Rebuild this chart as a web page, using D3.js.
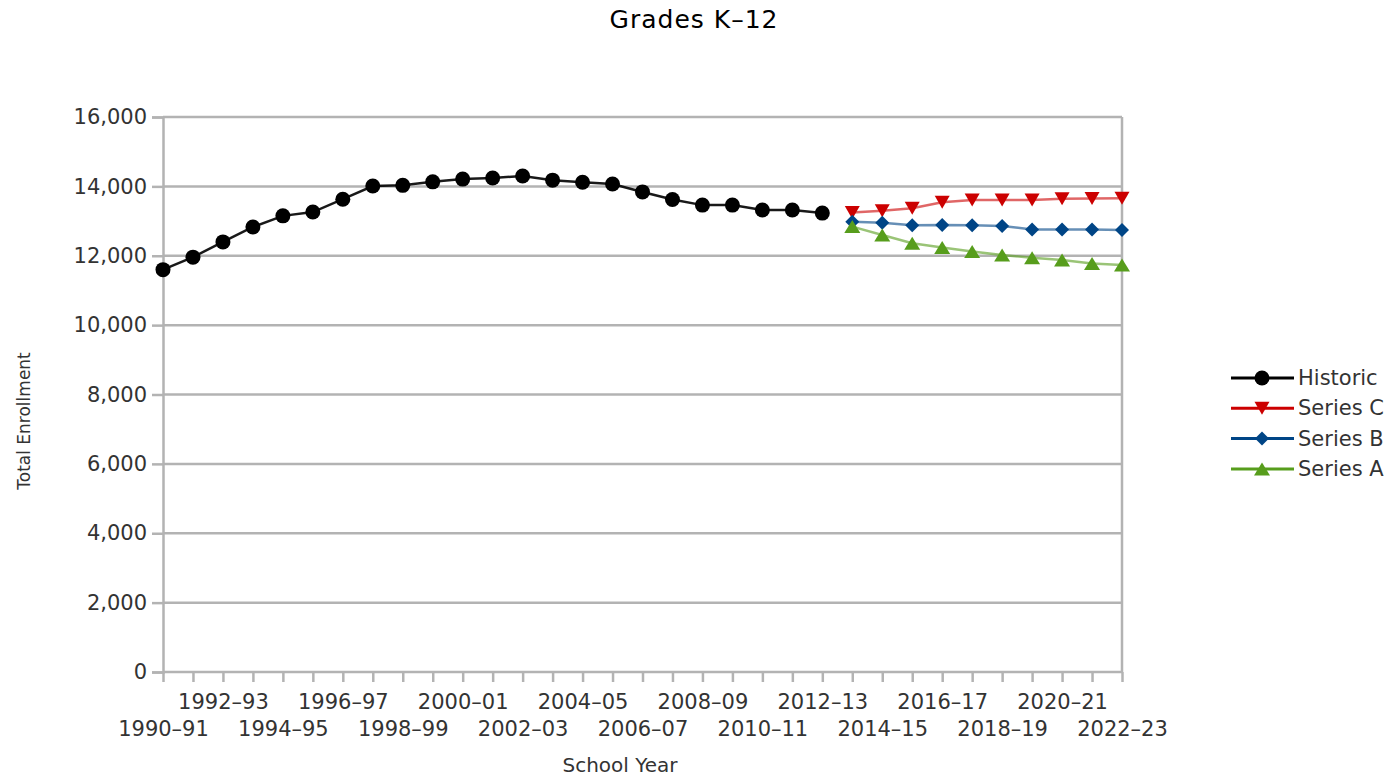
<!DOCTYPE html>
<html>
<head>
<meta charset="utf-8">
<script src="https://cdn.jsdelivr.net/npm/d3@7"></script>
<style>
  html, body { margin: 0; padding: 0; background: #fff; overflow: hidden; }
  svg { display: block; }
  text { font-family: "DejaVu Sans", sans-serif; }
</style>
</head>
<body>
<svg id="chart" width="1396" height="777"></svg>
<script>
const years = ["1990–91","1991–92","1992–93","1993–94","1994–95","1995–96","1996–97","1997–98","1998–99","1999–00",
  "2000–01","2001–02","2002–03","2003–04","2004–05","2005–06","2006–07","2007–08","2008–09","2009–10",
  "2010–11","2011–12","2012–13","2013–14","2014–15","2015–16","2016–17","2017–18","2018–19","2019–20",
  "2020–21","2021–22","2022–23"];
const historicYears = years.slice(0, 23);
const projYears = years.slice(23);
const historic = [11600, 11960, 12400, 12830, 13150, 13260, 13630, 14010, 14030, 14130, 14210, 14240, 14300,
  14180, 14120, 14070, 13840, 13620, 13460, 13460, 13320, 13320, 13230];
const seriesC = [13250, 13300, 13370, 13540, 13610, 13610, 13610, 13640, 13650, 13660];
const seriesB = [12980, 12950, 12880, 12890, 12880, 12860, 12760, 12760, 12760, 12740];
const seriesA = [12840, 12600, 12360, 12240, 12120, 12020, 11940, 11880, 11780, 11730];
const yTicks = [0, 2000, 4000, 6000, 8000, 10000, 12000, 14000, 16000];
const legendNames = ["Historic", "Series C", "Series B", "Series A"];

const svg = d3.select("#chart");
const pLeft = 163, pRight = 1122, pTop = 117, pBottom = 672;
const x = d3.scalePoint().domain(years).range([pLeft, pRight]);
const y = d3.scaleLinear().domain([0, 16000]).range([pBottom, pTop]);
const grid = "#b3b3b3";
const textCol = "#333";

// Title
svg.append("text").attr("x", 694).attr("y", 28).attr("text-anchor", "middle")
  .attr("font-size", 25).attr("letter-spacing", 1).attr("fill", "#000").text("Grades K–12");

// Gridlines
svg.append("g").selectAll("line").data(yTicks.filter(d => d > 0)).join("line")
  .attr("x1", pLeft).attr("x2", pRight).attr("y1", d => y(d)).attr("y2", d => y(d))
  .attr("stroke", grid).attr("stroke-width", 2.5);
// right border
svg.append("line").attr("x1", pRight).attr("x2", pRight).attr("y1", pTop).attr("y2", pBottom)
  .attr("stroke", grid).attr("stroke-width", 2.5);

// Y axis
const yAxis = d3.axisLeft(y).tickValues(yTicks).tickSize(11).tickPadding(5)
  .tickFormat(d3.format(","));
const gy = svg.append("g").attr("transform", `translate(${pLeft},0)`).call(yAxis);
gy.select(".domain").attr("stroke", grid).attr("stroke-width", 2.5);
gy.selectAll(".tick line").attr("stroke", grid).attr("stroke-width", 2.5);
gy.selectAll(".tick text").attr("font-size", 21).attr("fill", textCol)
  .attr("font-family", "DejaVu Sans, sans-serif");

// X axis
const xAxis = d3.axisBottom(x).tickSize(10).tickFormat((d, i) => i % 2 === 0 ? d : "");
const gx = svg.append("g").attr("transform", `translate(0,${pBottom})`).call(xAxis);
gx.select(".domain").attr("stroke", grid).attr("stroke-width", 2.5).attr("d", `M${pLeft},0H${pRight}`);
gx.selectAll(".tick line").attr("stroke", grid).attr("stroke-width", 2.5);
gx.selectAll(".tick text").attr("font-size", 21).attr("fill", textCol)
  .attr("font-family", "DejaVu Sans, sans-serif")
  .attr("dy", null)
  .attr("y", (d, i) => ((i / 2) % 2 === 0) ? 64 : 37);

// Axis titles
svg.append("text").attr("x", 620).attr("y", 772).attr("text-anchor", "middle")
  .attr("font-size", 20).attr("fill", textCol).text("School Year");
svg.append("text").attr("transform", "translate(30,421) rotate(-90)").attr("text-anchor", "middle")
  .attr("font-size", 17).attr("fill", textCol).text("Total Enrollment");

// Markers
function marker(g, type, color) {
  if (type === "circle") {
    g.append("circle").attr("r", 7.5).attr("fill", color);
  } else if (type === "down") {
    g.append("path").attr("d", "M-7.5,-6.5L7.5,-6.5L0,6.5Z").attr("fill", color);
  } else if (type === "up") {
    g.append("path").attr("d", "M-8,6.5L8,6.5L0,-6.5Z").attr("fill", color);
  } else if (type === "diamond") {
    g.append("path").attr("d", "M0,-7L7,0L0,7L-7,0Z").attr("fill", color);
  }
}

const series = [
  { name: legendNames[0], cats: historicYears, vals: historic, color: "#000000", type: "circle", op: 0.9 },
  { name: legendNames[1], cats: projYears, vals: seriesC, color: "#cc0000", type: "down", op: 0.6 },
  { name: legendNames[2], cats: projYears, vals: seriesB, color: "#004586", type: "diamond", op: 0.6 },
  { name: legendNames[3], cats: projYears, vals: seriesA, color: "#579d1c", type: "up", op: 0.6 }
];

const line = d3.line().x(d => x(d[0])).y(d => y(d[1]));
series.forEach(s => {
  const pts = s.cats.map((c, i) => [c, s.vals[i]]);
  svg.append("path").attr("d", line(pts)).attr("fill", "none")
    .attr("stroke", s.color).attr("stroke-width", 2.5).attr("stroke-opacity", s.op);
  pts.forEach(p => {
    const g = svg.append("g").attr("transform", `translate(${x(p[0])},${y(p[1])})`);
    marker(g, s.type, s.color);
  });
});

// Legend
series.forEach((s, i) => {
  const ly = 378 + i * 30.3;
  svg.append("line").attr("x1", 1231).attr("x2", 1294).attr("y1", ly).attr("y2", ly)
    .attr("stroke", s.color).attr("stroke-width", 3);
  const g = svg.append("g").attr("transform", `translate(1262,${ly})`);
  marker(g, s.type, s.color);
  svg.append("text").attr("x", 1298).attr("y", ly).attr("dominant-baseline", "central")
    .attr("font-size", 21).attr("fill", textCol).text(s.name);
});
</script>
</body>
</html>
